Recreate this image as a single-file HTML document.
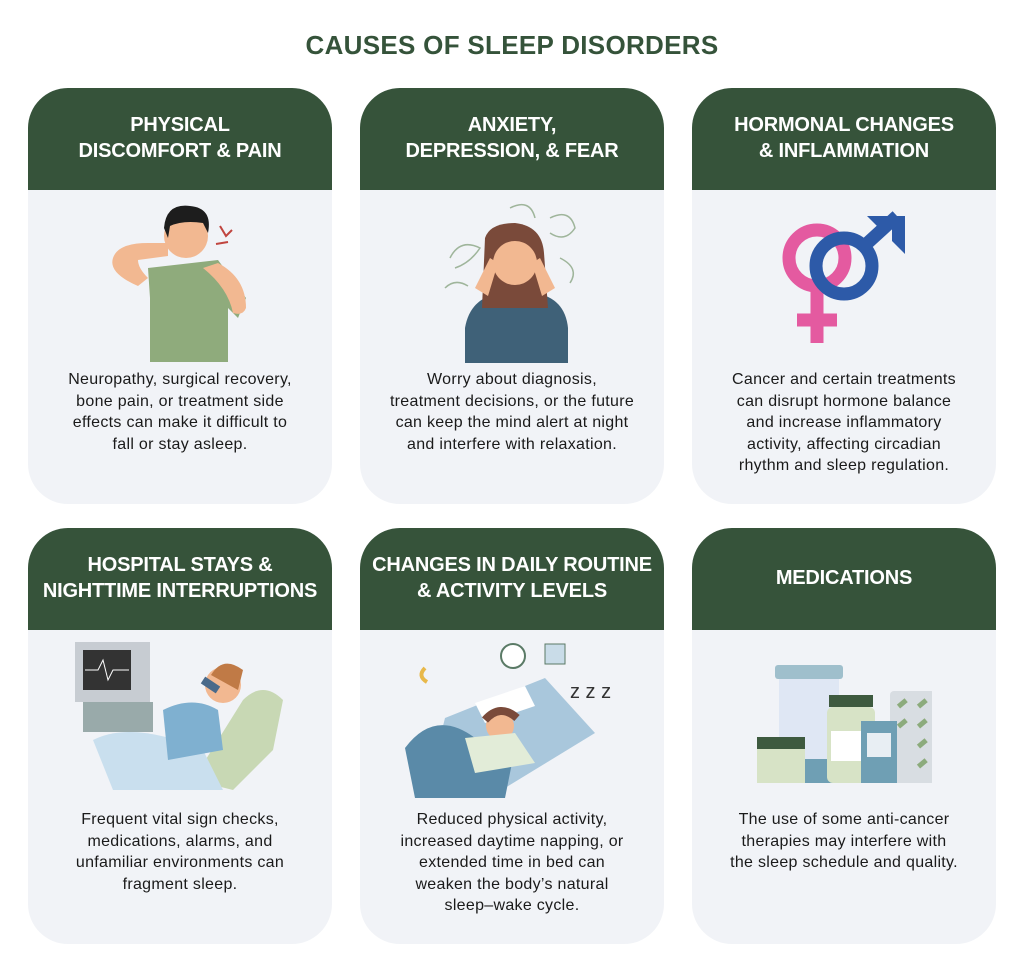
<!DOCTYPE html>
<html><head><meta charset="utf-8"><style>
body{margin:0;width:1024px;height:976px;background:#fff;font-family:"Liberation Sans",sans-serif;position:relative;overflow:hidden}
h1{position:absolute;top:30px;left:0;width:1024px;margin:0;text-align:center;font-size:26px;font-weight:bold;color:#35533a;letter-spacing:0.3px}
.card{position:absolute;width:304px;height:416px;border-radius:40px;background:#f1f3f7;overflow:hidden}
.hd{height:102px;box-sizing:border-box;background:#36533a;color:#fff;font-weight:bold;font-size:20px;line-height:26px;display:flex;align-items:center;justify-content:center;text-align:center;letter-spacing:-0.2px}
.tx{position:absolute;left:0;width:304px;text-align:center;font-size:16px;letter-spacing:0.3px;line-height:21.6px;color:#1a1a1a}
svg{position:absolute}
</style></head><body>
<h1>CAUSES OF SLEEP DISORDERS</h1>

<div class="card" style="left:28px;top:88px">
<div class="hd" style="padding-bottom:2px">PHYSICAL<br>DISCOMFORT &amp; PAIN</div>
<svg style="left:80px;top:110px" width="150" height="170" viewBox="0 0 150 170">
<path d="M40 70 L110 62 L138 100 L130 120 L120 110 L120 164 L42 164 L42 100 Z" fill="#8fab7c"/>
<path d="M5 60 Q10 45 40 45 L60 45 L60 58 L30 62 Q30 70 40 80 L30 88 Q0 75 5 60Z" fill="#f2b891"/>
<path d="M110 65 Q138 80 138 110 Q135 118 125 115 Q120 90 95 70Z" fill="#f2b891"/>
<circle cx="78" cy="38" r="22" fill="#f2b891"/>
<path d="M56 30 Q58 5 82 8 Q105 10 100 35 L95 25 Q75 22 62 28 L60 40Z" fill="#1d1d1d"/>
<path d="M112 28 L118 38 L124 32 M108 46 L120 44" stroke="#c0453f" stroke-width="2" fill="none"/>
</svg>
<div class="tx" style="top:281px">Neuropathy, surgical recovery,<br>bone pain, or treatment side<br>effects can make it difficult to<br>fall or stay asleep.</div>
</div>

<div class="card" style="left:360px;top:88px">
<div class="hd" style="padding-bottom:2px">ANXIETY,<br>DEPRESSION, &amp; FEAR</div>
<svg style="left:80px;top:110px" width="150" height="165" viewBox="0 0 150 165">
<g stroke="#9fb59b" fill="none" stroke-width="1.5"><path d="M10 60 Q20 40 40 50 Q30 65 15 70"/><path d="M110 20 Q130 10 135 30 Q125 45 110 35"/><path d="M70 10 Q90 0 95 20"/><path d="M120 60 Q140 70 130 85"/><path d="M5 90 Q15 80 28 88"/></g>
<path d="M25 130 Q30 100 60 95 L95 95 Q125 100 128 130 L128 165 L25 165Z" fill="#3f6178"/>
<path d="M45 40 Q50 25 75 25 Q102 28 104 55 L108 110 L42 110Z" fill="#7a4a3a"/>
<circle cx="75" cy="65" r="22" fill="#f2b891"/>
<path d="M35 90 L50 60 L58 65 L48 98Z M115 90 L100 60 L92 65 L102 98Z" fill="#f2b891"/>
</svg>
<div class="tx" style="top:281px">Worry about diagnosis,<br>treatment decisions, or the future<br>can keep the mind alert at night<br>and interfere with relaxation.</div>
</div>

<div class="card" style="left:692px;top:88px">
<div class="hd" style="padding-bottom:2px">HORMONAL CHANGES<br>&amp; INFLAMMATION</div>
<svg style="left:80px;top:120px" width="140" height="140" viewBox="0 0 140 140">
<circle cx="45" cy="50" r="28" fill="none" stroke="#e45aa0" stroke-width="13"/>
<path d="M45 78 V135 M25 112 H65" stroke="#e45aa0" stroke-width="13"/>
<circle cx="72" cy="58" r="28" fill="none" stroke="#2d5aa8" stroke-width="13"/>
<path d="M90 40 L125 8" stroke="#2d5aa8" stroke-width="13"/>
<path d="M95 8 H133 V46 L120 33 V21 H108Z" fill="#2d5aa8"/>
</svg>
<div class="tx" style="top:281px">Cancer and certain treatments<br>can disrupt hormone balance<br>and increase inflammatory<br>activity, affecting circadian<br>rhythm and sleep regulation.</div>
</div>

<div class="card" style="left:28px;top:528px">
<div class="hd" style="padding-bottom:2px">HOSPITAL STAYS &amp;<br>NIGHTTIME INTERRUPTIONS</div>
<svg style="left:45px;top:112px" width="215" height="150" viewBox="0 0 215 150">
<path d="M120 140 L170 60 Q190 40 210 60 L200 110 L160 150Z" fill="#c8d8b4"/>
<rect x="2" y="2" width="75" height="60" fill="#c7ccd2"/><rect x="10" y="10" width="48" height="40" fill="#333"/>
<path d="M12 30 H25 L30 20 L35 40 L40 30 H56" stroke="#fff" fill="none"/>
<rect x="10" y="62" width="70" height="30" fill="#9aa"/>
<path d="M20 100 Q60 80 130 110 L150 150 L40 150 Z" fill="#c9dfee"/>
<path d="M90 70 Q120 55 145 70 L150 110 L95 120Z" fill="#7fb0d0"/>
<circle cx="150" cy="45" r="18" fill="#f2b891"/>
<path d="M138 35 Q150 15 170 30 L165 50Z" fill="#c07a46"/>
<path d="M130 40 L145 50" stroke="#4a6a8a" stroke-width="8"/>
</svg>
<div class="tx" style="top:281px">Frequent vital sign checks,<br>medications, alarms, and<br>unfamiliar environments can<br>fragment sleep.</div>
</div>

<div class="card" style="left:360px;top:528px">
<div class="hd" style="padding-bottom:2px">CHANGES IN DAILY ROUTINE<br>&amp; ACTIVITY LEVELS</div>
<svg style="left:35px;top:110px" width="230" height="160" viewBox="0 0 230 160">
<circle cx="118" cy="18" r="12" fill="#fff" stroke="#5a7a66" stroke-width="2"/>
<rect x="150" y="6" width="20" height="20" fill="#c9dce8" stroke="#5a7a66"/>
<path d="M30 30 Q22 38 32 44" stroke="#e8b84a" stroke-width="4" fill="none"/>
<text x="175" y="60" font-size="20" fill="#333" font-family="Liberation Sans">z z z</text>
<path d="M50 80 L150 40 L200 95 L110 150 L40 120Z" fill="#a9c7dc"/>
<path d="M80 65 L130 48 L140 68 L90 85Z" fill="#fff"/>
<path d="M10 110 Q40 70 80 100 L120 110 L110 160 L20 160Z" fill="#5a8aa8"/>
<circle cx="105" cy="88" r="14" fill="#f2b891"/>
<path d="M90 82 Q105 65 122 80" stroke="#7a4a3a" stroke-width="8" fill="none"/>
<path d="M70 100 L120 95 L140 125 L80 135Z" fill="#e2ecd8"/>
</svg>
<div class="tx" style="top:281px">Reduced physical activity,<br>increased daytime napping, or<br>extended time in bed can<br>weaken the body’s natural<br>sleep–wake cycle.</div>
</div>

<div class="card" style="left:692px;top:528px">
<div class="hd" style="padding-bottom:2px">MEDICATIONS</div>
<svg style="left:65px;top:135px" width="175" height="125" viewBox="0 0 175 125">
<rect x="133" y="28" width="45" height="92" rx="4" fill="#d8dde2"/>
<g fill="#8cab7c"><rect x="140" y="38" width="10" height="5" transform="rotate(-40 145 40)"/><rect x="160" y="38" width="10" height="5" transform="rotate(-40 165 40)"/><rect x="140" y="58" width="10" height="5" transform="rotate(-40 145 60)"/><rect x="160" y="58" width="10" height="5" transform="rotate(-40 165 60)"/><rect x="160" y="78" width="10" height="5" transform="rotate(-40 165 80)"/><rect x="160" y="98" width="10" height="5" transform="rotate(-40 165 100)"/></g>
<rect x="18" y="2" width="68" height="14" rx="3" fill="#9fbfcc"/>
<rect x="22" y="16" width="60" height="104" fill="#dfe7f4"/>
<rect x="22" y="96" width="60" height="24" fill="#6f9fb4"/>
<rect x="72" y="32" width="44" height="12" fill="#3e5a3f"/>
<rect x="70" y="44" width="48" height="76" rx="6" fill="#d7e3c6"/>
<rect x="74" y="68" width="40" height="30" fill="#fff"/>
<rect x="104" y="58" width="36" height="62" fill="#6f9fb4"/>
<rect x="110" y="70" width="24" height="24" fill="#e8eef3"/>
<rect x="0" y="74" width="48" height="12" fill="#3e5a3f"/>
<rect x="0" y="86" width="48" height="34" fill="#d7e3c6"/>
</svg>
<div class="tx" style="top:281px">The use of some anti-cancer<br>therapies may interfere with<br>the sleep schedule and quality.</div>
</div>
</body></html>
